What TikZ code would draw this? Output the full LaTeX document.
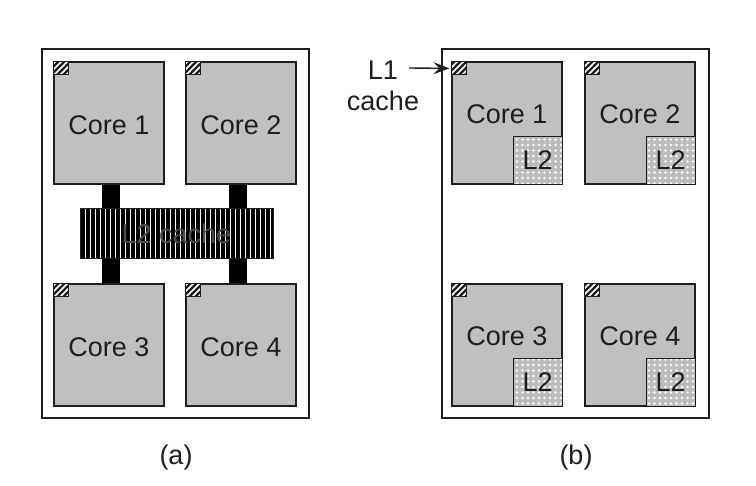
\documentclass[tikz,border=0pt]{standalone}
\usepackage{fontspec}
\setmainfont{Liberation Sans}
\usetikzlibrary{patterns,patterns.meta,arrows.meta}
\definecolor{coregray}{RGB}{192,192,192}
\definecolor{l2gray}{RGB}{188,188,188}
\definecolor{ink}{RGB}{30,30,30}
\pgfdeclarepatternformonly{thickne}{\pgfqpoint{-1pt}{-1pt}}{\pgfqpoint{7pt}{7pt}}{\pgfqpoint{6pt}{6pt}}{
  \pgfsetlinewidth{2.3pt}
  \pgfpathmoveto{\pgfqpoint{-0.5pt}{-0.5pt}}
  \pgfpathlineto{\pgfqpoint{6.5pt}{6.5pt}}
  \pgfusepath{stroke}}
\begin{document}
\begin{tikzpicture}[x=1pt,y=-1pt,
  bigfont/.style={font=\fontsize{27}{31}\selectfont, text=ink},
  chip/.style={draw=ink, line width=1.2pt, rectangle, inner sep=0pt,
    minimum width=267pt, minimum height=369pt},
  corebox/.style={draw=ink, line width=1.2pt, fill=coregray, rectangle, inner sep=0pt,
    minimum width=110pt, minimum height=122pt},
  coretext/.style={bigfont, inner sep=0pt},
  hatchbox/.style={draw=ink, line width=1pt, rectangle, inner sep=0pt,
    minimum width=15pt, minimum height=13pt, preaction={fill=white},
    pattern=thickne, pattern color=ink},
  privl2/.style={draw=ink, line width=1pt, rectangle, inner sep=0pt,
    minimum width=49pt, minimum height=48pt, bigfont,
    preaction={fill=l2gray},
    pattern={Dots[distance=5.5pt,radius=1.4pt]}, pattern color=white},
  sharedl2/.style={draw=ink, line width=1pt, rectangle, inner sep=0pt,
    minimum width=193pt, minimum height=50pt, bigfont, text=black!70,
    preaction={fill=black},
    pattern={Lines[angle=90,distance=5pt,line width=1pt]}, pattern color=white},
  bar/.style={line width=18pt, draw=black},
  lbl/.style={bigfont, inner sep=1pt},
  pointer/.style={draw=ink, line width=1.4pt, shorten >=2pt, -{Stealth[length=16pt,width=12pt,inset=6pt]}}
]
\useasboundingbox (0,0) rectangle (756,486);

% chips
\node[chip] (chipa) at (175.5,233.5) {};
\node[chip] (chipb) at (575.5,233.5) {};

% (a) cores
\node[corebox] (a1) at (109,123) {};
\node[corebox] (a2) at (241,123) {};
\node[corebox] (a3) at (109,345) {};
\node[corebox] (a4) at (241,345) {};

% bars and shared L2
\draw[bar] ([xshift=2pt]a1.south) -- ([xshift=2pt]a3.north);
\draw[bar] ([xshift=-3pt]a2.south) -- ([xshift=-3pt]a4.north);
\node[sharedl2] (l2a) at (176.5,234) {L2 cache};

\node[coretext] (a1t) at ([yshift=-2pt]a1.center) {Core 1};
\node[coretext] (a2t) at ([yshift=-2pt]a2.center) {Core 2};
\node[coretext] (a3t) at ([yshift=-2pt]a3.center) {Core 3};
\node[coretext] (a4t) at ([yshift=-2pt]a4.center) {Core 4};
\foreach \c in {a1,a2,a3,a4}{
  \node[hatchbox, anchor=north west] (\c h) at (\c.north west) {};
}

% (b) cores
\node[corebox] (b1) at (507,123) {};
\node[corebox] (b2) at (640,123) {};
\node[corebox] (b3) at (507,345) {};
\node[corebox] (b4) at (640,345) {};
\node[coretext] (b1t) at ([yshift=9pt]b1.center) {Core 1};
\node[coretext] (b2t) at ([yshift=9pt]b2.center) {Core 2};
\node[coretext] (b3t) at ([yshift=9pt]b3.center) {Core 3};
\node[coretext] (b4t) at ([yshift=9pt]b4.center) {Core 4};
\foreach \c in {b1,b2,b3,b4}{
  \node[hatchbox, anchor=north west] (\c h) at (\c.north west) {};
  \node[privl2, anchor=south east] (\c l) at (\c.south east) {L2};
}

% L1 label
\node[lbl, align=center] (l1) at (383,86) {L1\\cache};
\coordinate (l1s) at (409,68);
\draw[pointer] (l1s) -- (b1h.west);

% captions
\node[lbl] (capa) at (176,458) {(a)};
\node[lbl] (capb) at (576,458) {(b)};
\end{tikzpicture}
\end{document}
